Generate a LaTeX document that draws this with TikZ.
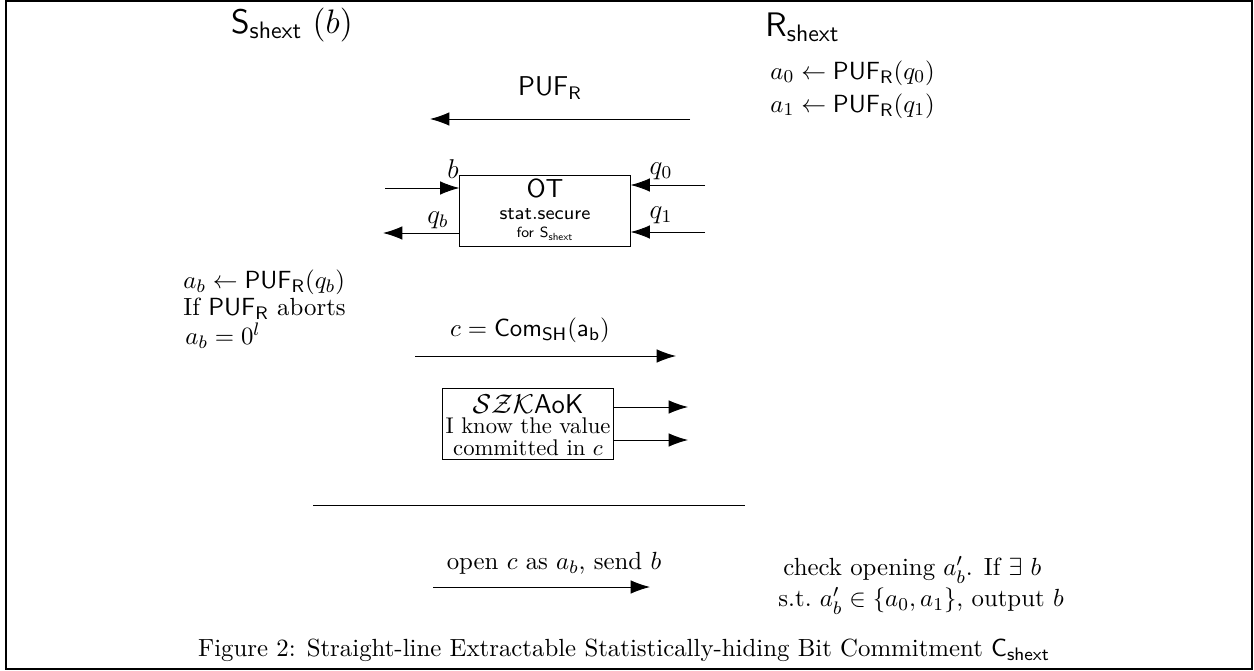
\documentclass[tikz,border=0pt,11pt]{standalone}
\usepackage{fix-cm}
\usepackage{amsmath,amssymb}
\usetikzlibrary{arrows.meta}
\newcommand{\PUFR}{\mathsf{PUF}_{\mathsf{R}}}
\newcommand{\Sshext}{\mathsf{S}_{\mathsf{shext}}}
\begin{document}
\begin{tikzpicture}[x=0.0155cm, y=-0.0155cm, >={Latex[length=3mm,width=2.1mm]},
  lbl/.style={inner sep=0pt},
  lft/.style={inner sep=0pt, anchor=west},
  msg/.style={->, thin}]
  \useasboundingbox (0,0) rectangle (1254,671);
  \draw[line width=0.8pt] (6,1) rectangle (1252,669);
  % parties
  \node[lbl] (sname) at (292,25) {\fontsize{15}{18}\selectfont $\Sshext$\ $(b)$};
  \node[lft] (rname) at (765,27) {\fontsize{15}{18}\selectfont $\mathsf{R}_{\mathsf{shext}}$};
  \node[lft] (a0) at (770,73) {$a_0 \leftarrow \PUFR(q_0)$};
  \node[lft] (a1) at (770,106) {$a_1 \leftarrow \PUFR(q_1)$};
  % PUF transfer
  \node[lbl] (puf) at (550,88) {\large $\PUFR$};
  \coordinate (pufs) at (690,119);
  \coordinate (pufe) at (430,119);
  \draw[msg] (pufs) -- (pufe);
  % OT
  \node (ot) [draw, minimum width=2.64cm, minimum height=1.1cm] at (545,210.5) {};
  \node[lbl] (ottitle) at (545,188) {\fontsize{11.5}{14}\selectfont $\mathsf{OT}$};
  \node[lbl] (otsec) at (545,214) {\fontsize{8.5}{10}\selectfont $\mathsf{stat.secure}$};
  \node[lbl] (otfor) at (545,234) {\fontsize{6.5}{8}\selectfont $\mathsf{for}\ \Sshext$};
  \coordinate (bin) at (385,188);
  \draw[msg] (bin) -- (ot.west |- bin);
  \node[lbl] (lb) at (453,169) {\large $b$};
  \coordinate (qbout) at (383,233);
  \draw[msg] (ot.west |- qbout) -- (qbout);
  \node[lbl] (lqb) at (438,220) {\large $q_b$};
  \coordinate (q0in) at (705,185);
  \draw[msg] (q0in) -- (ot.east |- q0in);
  \node[lbl] (lq0) at (661,171) {\large $q_0$};
  \coordinate (q1in) at (705,232);
  \draw[msg] (q1in) -- (ot.east |- q1in);
  \node[lbl] (lq1) at (661,215) {\large $q_1$};
  % sender computes
  \node[lft] (ab) at (183,282) {$a_b \leftarrow \PUFR(q_b)$};
  \node[lft] (abort) at (183,309) {If $\PUFR$ aborts};
  \node[lft] (zero) at (185,336) {$a_b = 0^l$};
  % commitment
  \node[lbl] (com) at (530,330) {$c = \mathsf{Com}_{\mathsf{SH}}(\mathsf{a_b})$};
  \coordinate (coms) at (415,356);
  \coordinate (come) at (676,356);
  \draw[msg] (coms) -- (come);
  % SZK AoK
  \node (szk) [draw, minimum width=2.64cm, minimum height=1.09cm] at (528,424) {};
  \node[lbl] (szktitle) at (528,404) {\large $\mathcal{SZK}\mathsf{AoK}$};
  \node[lbl, align=center, font=\small\linespread{0.8}\selectfont] (szktext) at (528,437) {I know the value\\committed in $c$};
  \coordinate (szk1) at (688,407);
  \coordinate (szk2) at (688,440);
  \draw[msg] (szk.east |- szk1) -- (szk1);
  \draw[msg] (szk.east |- szk2) -- (szk2);
  % separator
  \coordinate (sepl) at (313,505);
  \coordinate (sepr) at (745,505);
  \draw (sepl) -- (sepr);
  % opening
  \node[lbl] (open) at (554,563) {open $c$ as $a_b$, send $b$};
  \coordinate (opens) at (433,587);
  \coordinate (opene) at (650,587);
  \draw[msg] (opens) -- (opene);
  \node[lft] (check) at (783,570) {check opening $a'_b$. If $\exists\ b$};
  \node[lft] (output) at (778,601) {s.t.\ $a'_b \in \{a_0,a_1\}$, output $b$};
  % caption
  \node[lbl] (caption) at (624,650) {Figure 2: Straight-line Extractable Statistically-hiding Bit Commitment $\mathsf{C}_{\mathsf{shext}}$};
\end{tikzpicture}
\end{document}
